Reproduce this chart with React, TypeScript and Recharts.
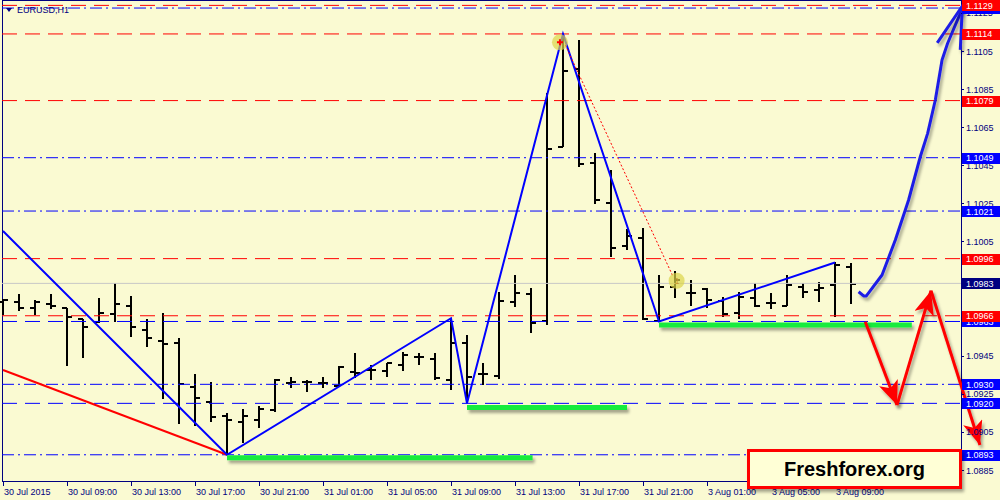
import React from "react";
import {
  ComposedChart,
  Bar,
  Line,
  Scatter,
  XAxis,
  YAxis,
  ReferenceLine,
} from "recharts";

// EURUSD H1, one bar per hour from 30 Jul 2015 05:00
const OPEN = [
  1.09732, 1.09731, 1.09699, 1.09722, 1.09699, 1.09641, 1.09626, 1.09668, 1.09711, 1.09585,
  1.09527, 1.09518, 1.09287, 1.09209, 1.09135, 1.09104, 1.09113, 1.09165, 1.09307, 1.09314,
  1.09308, 1.09291, 1.09365, 1.09375, 1.09371, 1.09401, 1.09442, 1.09431, 1.09323, 1.09515,
  1.09354, 1.09344, 1.09734, 1.09773, 1.09634, 1.10548, 1.10954, 1.10464, 1.10254, 1.10026,
  1.10068, 1.09632, 1.09813, 1.09781, 1.09799, 1.09737, 1.09676, 1.09752, 1.09725, 1.09713,
  1.09809, 1.09795, 1.09822, 1.09914,
];
const HIGH = [
  1.09746, 1.09773, 1.09743, 1.09774, 1.09699, 1.09641, 1.09752, 1.0983, 1.09764, 1.09641,
  1.09676, 1.09542, 1.09353, 1.09311, 1.09148, 1.09169, 1.09186, 1.09328, 1.0934, 1.09323,
  1.0934, 1.09396, 1.09466, 1.09401, 1.0941, 1.09471, 1.09463, 1.09466, 1.09647, 1.09559,
  1.0941, 1.09783, 1.09874, 1.09804, 1.10828, 1.1114, 1.11108, 1.10513, 1.10425, 1.10114,
  1.10121, 1.09874, 1.09897, 1.09848, 1.09804, 1.0976, 1.09786, 1.0983, 1.09778, 1.09874,
  1.09834, 1.09839, 1.0994, 1.09939,
];
const LOW = [
  1.09664, 1.09687, 1.09664, 1.09694, 1.09398, 1.0944, 1.0962, 1.09626, 1.0955, 1.09497,
  1.09221, 1.0909, 1.09081, 1.09104, 1.0893, 1.0899, 1.0907, 1.09156, 1.09279, 1.09261,
  1.09279, 1.09284, 1.09332, 1.09323, 1.0934, 1.0937, 1.09401, 1.09323, 1.0927, 1.092,
  1.09296, 1.0933, 1.09708, 1.09569, 1.09611, 1.10545, 1.10443, 1.10247, 1.0997, 1.10005,
  1.09638, 1.0963, 1.09752, 1.09713, 1.09699, 1.09652, 1.09641, 1.09708, 1.09695, 1.09711,
  1.09752, 1.09734, 1.09652, 1.0972,
];
const CLOSE = [
  1.09743, 1.09702, 1.09731, 1.09711, 1.09655, 1.09603, 1.09673, 1.0972, 1.09603, 1.09545,
  1.09512, 1.09302, 1.09226, 1.09128, 1.09113, 1.09135, 1.09169, 1.09323, 1.09312, 1.09312,
  1.09308, 1.09392, 1.09361, 1.09375, 1.0941, 1.09454, 1.09442, 1.09332, 1.09518, 1.09337,
  1.09354, 1.09739, 1.09781, 1.09624, 1.10534, 1.10947, 1.10457, 1.10268, 1.10017, 1.10079,
  1.09643, 1.09813, 1.09848, 1.09781, 1.09743, 1.09669, 1.09757, 1.09711, 1.09725, 1.09822,
  1.09783, 1.09804, 1.09927, 1.09825,
];

const TIME_LABELS = [
  "30 Jul 2015", "30 Jul 09:00", "30 Jul 13:00", "30 Jul 17:00", "30 Jul 21:00",
  "31 Jul 01:00", "31 Jul 05:00", "31 Jul 09:00", "31 Jul 13:00", "31 Jul 17:00",
  "31 Jul 21:00", "3 Aug 01:00", "3 Aug 05:00", "3 Aug 09:00",
];
// 1.0965 and 1.0985 sit fully under the level tags, so they are left out
const PRICE_TICKS = [
  1.0885, 1.0905, 1.0925, 1.0945, 1.1005, 1.1025, 1.1045, 1.1065, 1.1085, 1.1105, 1.1125,
];

// horizontal levels (drawn in this order, later tags cover earlier ones)
const LEVELS = [
  1.11276, 1.1129, 1.1114, 1.1079, 1.1049, 1.1021, 1.0996, 1.0983, 1.0963, 1.0966, 1.093,
  1.092, 1.0893,
];
const LEVEL_KIND = ["bdd", "rd", "rd", "rd", "bdd", "bdd", "rd", "bid", "bd", "rd", "bdd", "bd", "bdd"];
const HIDDEN_TAG = [1.11276];

const ZIGZAG_I = [0, 14, 28, 29, 35, 41, 52];
const ZIGZAG_P = [1.10105, 1.0893, 1.09647, 1.092, 1.1114, 1.0963, 1.0994];

const TREND_I = [0, 14];
const TREND_P = [1.09375, 1.0893];

const SUPPORT_FROM = [14, 29, 41];
const SUPPORT_TO = [33.1, 39.0, 56.8];
const SUPPORT_P = [1.08915, 1.09178, 1.09611];

const FIB_I = [35.14, 41.89];
const FIB_P = [1.11082, 1.09864];

const MARK_I = [34.81, 42.1];
const MARK_P = [1.11096, 1.09844];
const MARK_TEXT = ["+", "1"];

const FORECAST_I = [53.475, 53.79, 53.96, 54.94, 55.77, 56.6, 57.33, 57.79, 58.27, 58.69, 59.04, 59.83, 60.02];
const FORECAST_P = [
  1.09786, 1.09764, 1.09764, 1.09874, 1.10058, 1.10268, 1.10495, 1.10618, 1.10793, 1.11003,
  1.11091, 1.11248, 1.11292,
];
const HEAD_I = [58.39, 59.96, 59.83];
const HEAD_P = [1.11093, 1.11287, 1.11056];

const SWING_I = [53.89, 55.875, 58.0, 61.06];
const SWING_P = [1.09629, 1.09191, 1.09792, 1.08981];

// layout
const X_MIN = -0.0625;
const X_MAX = 62.3125;
const SCALE_AT = 59.875; // where the price scale starts
const Y_MIN = 1.08787;
const Y_MAX = 1.11313;

const NAVY = "#000080";
const FONT = "'Liberation Sans', Arial, sans-serif";
const LINE_STYLE: Record<string, { stroke: string; dash?: string }> = {
  rd: { stroke: "#FF0000", dash: "15 8" },
  bd: { stroke: "#0000FF", dash: "15 8" },
  bdd: { stroke: "#0000FF", dash: "12 4 2 4" },
  bid: { stroke: "#C8C8C8" },
};
const TAG_FILL: Record<string, string> = { rd: "#FF0000", bd: "#0000FF", bdd: "#0000FF", bid: "#000080" };

const rows = OPEN.map((o, k) => ({ i: k, o, h: HIGH[k], l: LOW[k], c: CLOSE[k], hl: [LOW[k], HIGH[k]] }));
const pts = (xs: number[], ys: number[]) => xs.map((i, k) => ({ i, p: ys[k] }));

function OhlcBar(props: any) {
  const { x, y, width, height, payload } = props;
  if (!payload || !Number.isFinite(y) || !Number.isFinite(height)) return null;
  const top = Math.min(y, y + height);
  const bot = Math.max(y, y + height);
  const cx = Math.round(x + width / 2);
  const span = payload.h - payload.l || 1;
  const at = (v: number) => Math.round(top + ((payload.h - v) / span) * (bot - top));
  return (
    <g stroke="#000" strokeWidth={2}>
      <line x1={cx} x2={cx} y1={Math.round(top)} y2={Math.round(bot)} />
      <line x1={cx - 5} x2={cx} y1={at(payload.o)} y2={at(payload.o)} />
      <line x1={cx} x2={cx + 5} y1={at(payload.c)} y2={at(payload.c)} />
    </g>
  );
}

function TimeTick({ x, y, payload }: any) {
  const label = TIME_LABELS[Math.round(payload.value / 4)];
  const px = Math.round(x);
  return (
    <g>
      <line x1={px + 0.5} x2={px + 0.5} y1={y} y2={y + 4} stroke={NAVY} />
      <text x={px + 1} y={y + 13} fill={NAVY} fontSize={9} fontFamily={FONT}>
        {label}
      </text>
    </g>
  );
}

function PriceTick({ y, payload }: any) {
  const v = payload.value;
  const k = LEVELS.indexOf(v);
  if (k >= 0) {
    return (
      <g>
        <rect x={962} y={Math.round(y) - 5} width={38} height={11} fill={TAG_FILL[LEVEL_KIND[k]]} />
        {HIDDEN_TAG.includes(v) ? null : (
          <text x={966} y={y + 3.5} fill="#fff" fontSize={9} fontFamily={FONT}>
            {v.toFixed(4)}
          </text>
        )}
      </g>
    );
  }
  return (
    <g>
      <line x1={961} x2={964} y1={Math.round(y) + 0.5} y2={Math.round(y) + 0.5} stroke={NAVY} />
      <text x={966} y={y + 3.5} fill={NAVY} fontSize={9} fontFamily={FONT}>
        {v.toFixed(4)}
      </text>
    </g>
  );
}

function Marker({ cx, cy, payload }: any) {
  return (
    <g>
      <circle cx={cx} cy={cy} r={8} fill="#DCD448" fillOpacity={0.7} />
      {payload.t === "+" ? (
        <path d={`M${cx - 3},${cy} H${cx + 3} M${cx},${cy - 3} V${cy + 3}`} stroke="#FF0000" strokeWidth={2} />
      ) : (
        <text x={cx - 2} y={cy + 3.5} fontSize={9} fontFamily={FONT} fill="#C89830">
          {payload.t}
        </text>
      )}
    </g>
  );
}

export default function App() {
  const marks = MARK_I.map((i, k) => ({ i, p: MARK_P[k], t: MARK_TEXT[k] }));
  return (
    <div
      style={{
        position: "fixed",
        left: 0,
        top: 0,
        width: 1000,
        height: 500,
        background: "#FAFAD2",
        overflow: "hidden",
      }}
    >
      <div
        style={{
          position: "absolute",
          left: 2,
          top: 0,
          width: 960,
          height: 482,
          boxSizing: "border-box",
          border: `1px solid ${NAVY}`,
        }}
      />
      <div style={{ position: "absolute", left: 0, top: 0 }}>
        <ComposedChart
          width={1000}
          height={500}
          data={rows}
          margin={{ top: 1, right: 0, bottom: 0, left: 2 }}
        >
          <defs>
            <filter id="shade" filterUnits="userSpaceOnUse" x={0} y={0} width={1000} height={500}>
              <feDropShadow dx={2} dy={3} stdDeviation={1.5} floodColor="#000" floodOpacity={0.35} />
            </filter>
            <marker
              id="headRed"
              markerUnits="userSpaceOnUse"
              markerWidth={24}
              markerHeight={20}
              refX={24}
              refY={10}
              orient="auto"
            >
              <path d="M0,0 L24,10 L0,20 L6,10 Z" fill="#FF0000" />
            </marker>
          </defs>
          <XAxis
            dataKey="i"
            type="number"
            domain={[X_MIN, X_MAX]}
            ticks={TIME_LABELS.map((_, k) => k * 4)}
            interval={0}
            height={18}
            tickSize={0}
            tickMargin={0}
            axisLine={false}
            tickLine={false}
            tick={<TimeTick />}
          />
          <XAxis xAxisId="o" dataKey="i" type="number" domain={[X_MIN, X_MAX]} hide />
          <YAxis
            orientation="right"
            mirror
            type="number"
            domain={[Y_MIN, Y_MAX]}
            ticks={[...PRICE_TICKS, ...LEVELS]}
            interval={0}
            axisLine={false}
            tickLine={false}
            tick={<PriceTick />}
          />

          {LEVELS.map((p, k) => {
            const s = LINE_STYLE[LEVEL_KIND[k]];
            return (
              <ReferenceLine
                key={`lv${k}`}
                segment={[
                  { x: X_MIN, y: p },
                  { x: SCALE_AT, y: p },
                ]}
                stroke={s.stroke}
                strokeDasharray={s.dash}
                strokeWidth={1}
              />
            );
          })}

          <Bar dataKey="hl" barSize={10} shape={<OhlcBar />} isAnimationActive={false} />

          <Line
            xAxisId="o"
            data={pts(TREND_I, TREND_P)}
            dataKey="p"
            stroke="#FF0000"
            strokeWidth={2}
            dot={false}
            activeDot={false}
            isAnimationActive={false}
          />
          <Line
            xAxisId="o"
            data={pts(ZIGZAG_I, ZIGZAG_P)}
            dataKey="p"
            stroke="#0000FF"
            strokeWidth={2}
            dot={false}
            activeDot={false}
            isAnimationActive={false}
          />
          <Line
            xAxisId="o"
            data={pts(FIB_I, FIB_P)}
            dataKey="p"
            stroke="#FF0000"
            strokeWidth={1}
            strokeDasharray="2 2"
            dot={false}
            activeDot={false}
            isAnimationActive={false}
          />
          {SUPPORT_P.map((p, k) => (
            <Line
              key={`sp${k}`}
              xAxisId="o"
              data={pts([SUPPORT_FROM[k], SUPPORT_TO[k]], [p, p])}
              dataKey="p"
              stroke="#18EC3C"
              strokeWidth={5}
              filter="url(#shade)"
              dot={false}
              activeDot={false}
              isAnimationActive={false}
            />
          ))}
          <Scatter xAxisId="o" data={marks} dataKey="p" shape={<Marker />} isAnimationActive={false} />

          <Line
            xAxisId="o"
            data={pts(FORECAST_I, FORECAST_P)}
            dataKey="p"
            stroke="#1E1EE6"
            strokeWidth={3}
            strokeLinejoin="round"
            filter="url(#shade)"
            dot={false}
            activeDot={false}
            isAnimationActive={false}
          />
          <Line
            xAxisId="o"
            data={pts(HEAD_I, HEAD_P)}
            dataKey="p"
            stroke="#1E1EE6"
            strokeWidth={3}
            filter="url(#shade)"
            dot={false}
            activeDot={false}
            isAnimationActive={false}
          />
          {SWING_I.slice(1).map((_, k) => (
            <Line
              key={`sw${k}`}
              xAxisId="o"
              data={pts(SWING_I.slice(k, k + 2), SWING_P.slice(k, k + 2))}
              dataKey="p"
              stroke="#FF0000"
              strokeWidth={3}
              markerEnd="url(#headRed)"
              filter="url(#shade)"
              dot={false}
              activeDot={false}
              isAnimationActive={false}
            />
          ))}
        </ComposedChart>
      </div>

      <div
        style={{
          position: "absolute",
          left: 6,
          top: 4,
          fontFamily: FONT,
          fontSize: 9,
          lineHeight: "12px",
          color: NAVY,
          display: "flex",
          alignItems: "center",
        }}
      >
        <span
          style={{
            display: "inline-block",
            width: 0,
            height: 0,
            borderLeft: "3.5px solid transparent",
            borderRight: "3.5px solid transparent",
            borderTop: `4px solid ${NAVY}`,
            marginRight: 5,
          }}
        />
        EURUSD,H1
      </div>

      <div
        style={{
          position: "absolute",
          left: 747,
          top: 449,
          width: 215,
          height: 40,
          boxSizing: "border-box",
          border: "3px solid #FF0000",
          background: "#FFFFD6",
          boxShadow: "2px 3px 3px rgba(0,0,0,0.35)",
          fontFamily: FONT,
          fontWeight: "bold",
          fontSize: 20,
          lineHeight: "34px",
          textAlign: "center",
          color: "#000",
        }}
      >
        Freshforex.org
      </div>
    </div>
  );
}
